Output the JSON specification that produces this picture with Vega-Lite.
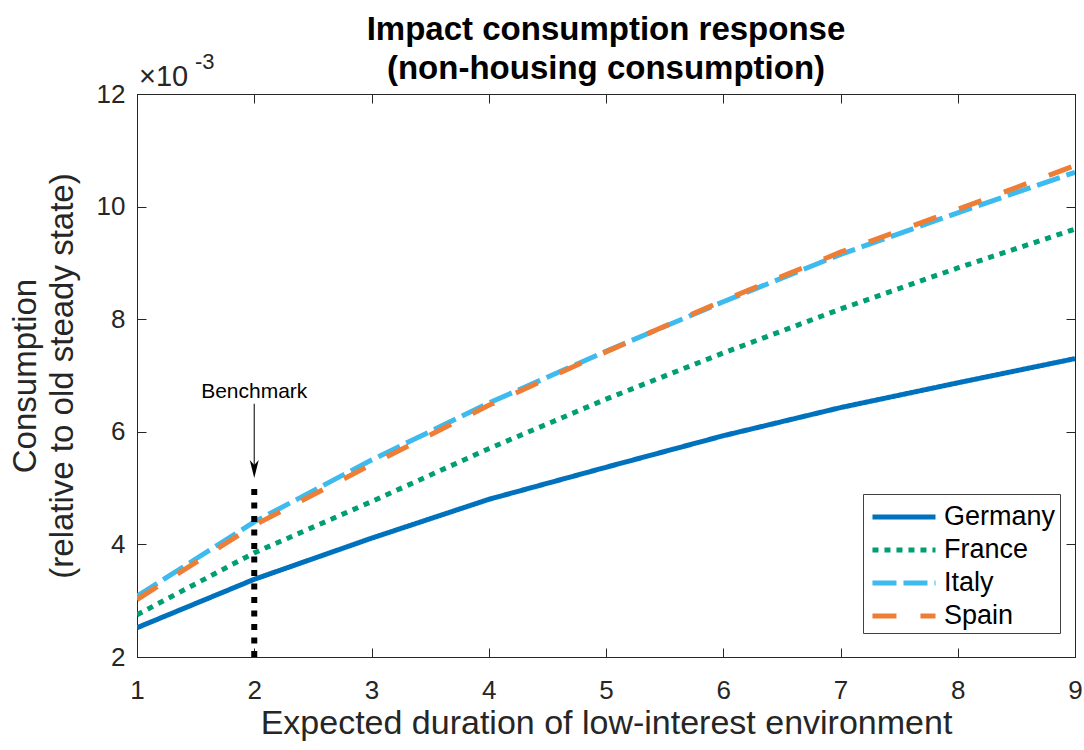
{
  "$schema": "https://vega.github.io/schema/vega-lite/v6.json",
  "width": 938,
  "height": 563,
  "autosize": "none",
  "padding": {"left": 137, "top": 94, "right": 9, "bottom": 93},
  "background": "white",
  "title": {
    "text": ["Impact consumption response", "(non-housing consumption)"],
    "font": "Liberation Sans",
    "fontSize": 33,
    "fontWeight": "bold",
    "color": "black",
    "lineHeight": 39,
    "anchor": "middle",
    "offset": -35
  },
  "config": {
    "font": "Liberation Sans",
    "view": {"stroke": "#262626", "strokeWidth": 1},
    "axis": {
      "grid": false,
      "domainColor": "#262626",
      "tickColor": "#262626",
      "labelColor": "#262626",
      "titleColor": "#262626",
      "labelFont": "Liberation Sans",
      "titleFont": "Liberation Sans",
      "labelFontSize": 26,
      "titleFontSize": 33,
      "titleFontWeight": "normal",
      "tickSize": -9,
      "tickWidth": 1,
      "labelFlush": false
    }
  },
  "datasets": {
    "lines": [
      {"country": "Germany", "x": 1, "y": 2.52},
      {"country": "Germany", "x": 2, "y": 3.38},
      {"country": "Germany", "x": 3, "y": 4.11},
      {"country": "Germany", "x": 4, "y": 4.80},
      {"country": "Germany", "x": 5, "y": 5.37},
      {"country": "Germany", "x": 6, "y": 5.93},
      {"country": "Germany", "x": 7, "y": 6.43},
      {"country": "Germany", "x": 8, "y": 6.87},
      {"country": "Germany", "x": 9, "y": 7.30},
      {"country": "France", "x": 1, "y": 2.75},
      {"country": "France", "x": 2, "y": 3.85},
      {"country": "France", "x": 3, "y": 4.76},
      {"country": "France", "x": 4, "y": 5.70},
      {"country": "France", "x": 5, "y": 6.58},
      {"country": "France", "x": 6, "y": 7.40},
      {"country": "France", "x": 7, "y": 8.18},
      {"country": "France", "x": 8, "y": 8.91},
      {"country": "France", "x": 9, "y": 9.60},
      {"country": "Italy", "x": 1, "y": 3.08},
      {"country": "Italy", "x": 2, "y": 4.40},
      {"country": "Italy", "x": 3, "y": 5.50},
      {"country": "Italy", "x": 4, "y": 6.51},
      {"country": "Italy", "x": 5, "y": 7.43},
      {"country": "Italy", "x": 6, "y": 8.31},
      {"country": "Italy", "x": 7, "y": 9.15},
      {"country": "Italy", "x": 8, "y": 9.89},
      {"country": "Italy", "x": 9, "y": 10.61},
      {"country": "Spain", "x": 1, "y": 3.02},
      {"country": "Spain", "x": 2, "y": 4.34},
      {"country": "Spain", "x": 3, "y": 5.42},
      {"country": "Spain", "x": 4, "y": 6.47},
      {"country": "Spain", "x": 5, "y": 7.42},
      {"country": "Spain", "x": 6, "y": 8.33},
      {"country": "Spain", "x": 7, "y": 9.19},
      {"country": "Spain", "x": 8, "y": 9.95},
      {"country": "Spain", "x": 9, "y": 10.73}
    ],
    "bench": [{"x": 2, "y": 2, "y2": 5.05}],
    "arrow": [{"x": 2, "y": 6.5, "y2": 5.34, "tip": 5.34}],
    "label": [{"x": 2, "y": 6.71, "text": "Benchmark"}],
    "mult": [{"x": 1, "y": 12, "base": "×10", "exp": "-3"}]
  },
  "layer": [
    {
      "data": {"name": "lines"},
      "mark": {"type": "line", "strokeWidth": 5, "strokeCap": "butt", "strokeJoin": "miter", "clip": true},
      "encoding": {
        "x": {
          "field": "x", "type": "quantitative",
          "scale": {"domain": [1, 9], "nice": false, "zero": false},
          "axis": {"orient": "bottom", "values": [1, 2, 3, 4, 5, 6, 7, 8, 9], "labelPadding": 29, "title": "Expected duration of low-interest environment", "titlePadding": 3, "titleFontSize": 34}
        },
        "y": {
          "field": "y", "type": "quantitative",
          "scale": {"domain": [2, 12], "nice": false, "zero": false},
          "axis": {"orient": "left", "values": [2, 4, 6, 8, 10, 12], "labelPadding": 21, "title": ["Consumption", "(relative to old steady state)"], "titleLineHeight": 37, "titlePadding": 17}
        },
        "color": {
          "field": "country", "type": "nominal",
          "scale": {"domain": ["Germany", "France", "Italy", "Spain"], "range": ["#0072BD", "#009E73", "#3DBAEE", "#EE7D35"]},
          "legend": {
            "title": null, "orient": "none", "legendX": 726, "legendY": 400,
            "symbolType": "M-0.82,0 L3,0", "symbolSize": 1089, "symbolStrokeWidth": 5,
            "symbolFillColor": "transparent",
            "labelFontSize": 27, "labelColor": "black", "labelFont": "Liberation Sans",
            "fillColor": "white", "strokeColor": "#404040", "padding": 4,
            "rowPadding": 1, "labelOffset": 39
          }
        },
        "strokeDash": {
          "field": "country", "type": "nominal",
          "scale": {"domain": ["Germany", "France", "Italy", "Spain"], "range": [[1, 0], [6, 6], [24, 7], [24, 24]]}
        }
      }
    },
    {
      "data": {"name": "bench"},
      "mark": {"type": "rule", "color": "black", "strokeWidth": 6, "strokeDash": [6, 7.5], "strokeCap": "butt"},
      "encoding": {
        "x": {"field": "x", "type": "quantitative", "axis": {"orient": "top", "values": [1, 2, 3, 4, 5, 6, 7, 8, 9], "labels": false, "title": null}},
        "y": {"field": "y", "type": "quantitative", "axis": {"orient": "right", "values": [2, 4, 6, 8, 10, 12], "labels": false, "title": null}},
        "y2": {"field": "y2"}
      }
    },
    {
      "data": {"name": "arrow"},
      "mark": {"type": "rule", "color": "#262626", "strokeWidth": 1.2},
      "encoding": {
        "x": {"field": "x", "type": "quantitative", "axis": null},
        "y": {"field": "y", "type": "quantitative", "axis": null},
        "y2": {"field": "y2"}
      }
    },
    {
      "data": {"name": "arrow"},
      "mark": {"type": "point", "shape": "M0,1 L-0.5,-1 L0,-0.45 L0.5,-1 Z", "filled": true, "color": "black", "opacity": 1, "size": 324},
      "encoding": {
        "x": {"field": "x", "type": "quantitative", "axis": null},
        "y": {"field": "tip", "type": "quantitative", "axis": null}
      }
    },
    {
      "data": {"name": "label"},
      "mark": {"type": "text", "fontSize": 21, "font": "Liberation Sans", "color": "black", "baseline": "middle", "align": "center"},
      "encoding": {
        "x": {"field": "x", "type": "quantitative", "axis": null},
        "y": {"field": "y", "type": "quantitative", "axis": null},
        "text": {"field": "text"}
      }
    },
    {
      "data": {"name": "mult"},
      "mark": {"type": "text", "fontSize": 29, "font": "Liberation Sans", "color": "#262626", "baseline": "alphabetic", "align": "left", "dx": 2, "dy": -8},
      "encoding": {
        "x": {"field": "x", "type": "quantitative", "axis": null},
        "y": {"field": "y", "type": "quantitative", "axis": null},
        "text": {"field": "base"}
      }
    },
    {
      "data": {"name": "mult"},
      "mark": {"type": "text", "fontSize": 22, "font": "Liberation Sans", "color": "#262626", "baseline": "alphabetic", "align": "left", "dx": 58, "dy": -25},
      "encoding": {
        "x": {"field": "x", "type": "quantitative", "axis": null},
        "y": {"field": "y", "type": "quantitative", "axis": null},
        "text": {"field": "exp"}
      }
    }
  ],
  "resolve": {"axis": {"x": "independent", "y": "independent"}}
}
